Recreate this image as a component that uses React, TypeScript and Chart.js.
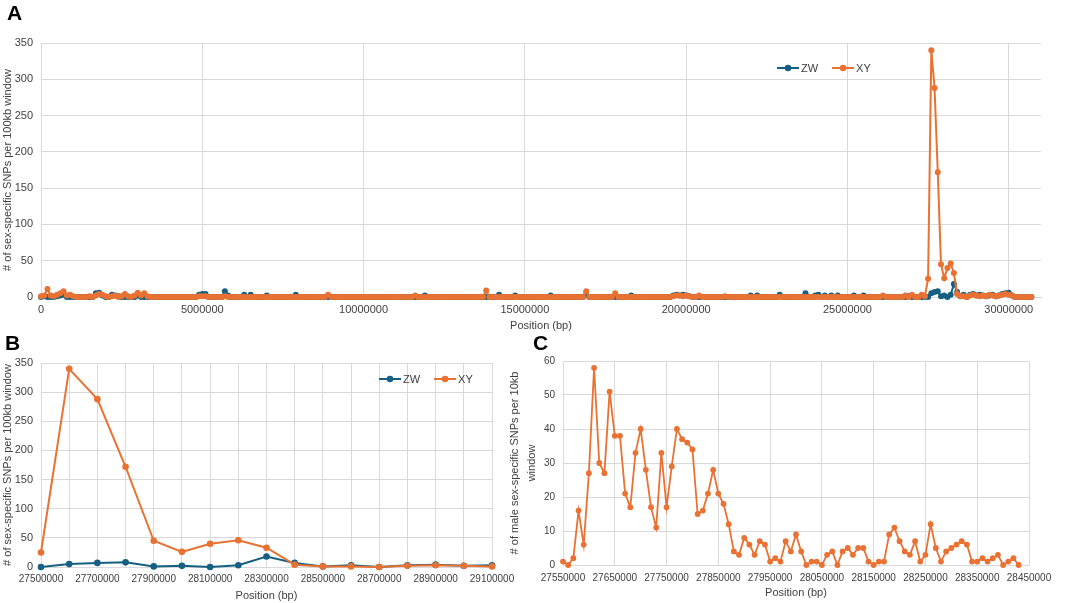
import React, { useEffect, useRef } from 'react';
import { Chart, registerables } from 'chart.js';

Chart.register(...registerables);

const FONT = '"Liberation Sans", Arial, Helvetica, sans-serif';
const BLUE = '#156082';
const ORANGE = '#E97132';
const GRID = '#d9d9d9';
const TEXT = '#404040';

// ---------- Panel A: whole chromosome, 100 kb windows ----------
const A_WINDOW_START = 0;
const A_WINDOW_STEP = 100000;
const A_ZW = [
  0, 1, 0, 0, 0, 1, 2, 3, 0, 0, 0, 0, 0, 0, 0, 0, 0, 5, 6, 2,
  0, 0, 3, 2, 1, 0, 0, 0, 0, 0, 2, 0, 0, 0, 0, 0, 0, 0, 0, 0,
  0, 0, 0, 0, 0, 0, 0, 0, 0, 3, 4, 4, 0, 0, 0, 0, 0, 8, 2, 0,
  0, 0, 0, 3, 0, 3, 0, 0, 0, 0, 2, 0, 0, 0, 0, 0, 0, 0, 0, 3,
  0, 0, 0, 0, 0, 0, 0, 0, 0, 0, 0, 0, 0, 0, 0, 0, 0, 0, 0, 0,
  0, 0, 0, 0, 0, 0, 0, 0, 0, 0, 0, 0, 0, 0, 0, 0, 0, 0, 0, 2,
  0, 0, 0, 0, 0, 0, 0, 0, 0, 0, 0, 0, 0, 0, 0, 0, 0, 0, 0, 0,
  0, 0, 3, 0, 0, 0, 0, 2, 0, 0, 0, 0, 0, 0, 0, 0, 0, 0, 2, 0,
  0, 0, 0, 0, 0, 0, 0, 0, 0, 3, 0, 0, 0, 0, 0, 0, 0, 0, 0, 0,
  0, 0, 0, 2, 0, 0, 0, 0, 0, 0, 0, 0, 0, 0, 0, 0, 2, 3, 2, 3,
  2, 1, 0, 0, 0, 0, 0, 0, 0, 0, 0, 0, 0, 0, 0, 0, 0, 0, 0, 0,
  2, 0, 2, 0, 0, 0, 0, 0, 0, 3, 0, 0, 0, 0, 0, 0, 0, 5, 0, 0,
  2, 3, 0, 2, 0, 2, 0, 2, 0, 0, 0, 0, 2, 0, 0, 2, 0, 0, 0, 0,
  0, 0, 0, 0, 0, 0, 0, 0, 0, 1, 0, 0, 0, 0, 0, 0, 5, 7, 8, 1,
  2, 0, 3, 18, 7, 1, 3, 0, 3, 4, 2, 3, 2, 1, 2, 3, 1, 2, 4, 5,
  6, 2, 0, 0, 0, 0, 0, 0,
];
const A_XY = [
  1, 2, 11, 2, 1, 3, 5, 8, 2, 3, 1, 0, 0, 0, 0, 1, 0, 2, 4, 3,
  1, 0, 1, 2, 0, 1, 4, 1, 0, 2, 6, 2, 5, 1, 0, 0, 0, 0, 0, 0,
  0, 0, 0, 0, 0, 0, 0, 0, 0, 1, 1, 1, 0, 0, 0, 0, 0, 1, 0, 0,
  0, 0, 0, 0, 0, 0, 0, 0, 0, 0, 0, 0, 0, 0, 0, 0, 0, 0, 0, 0,
  0, 0, 0, 0, 0, 0, 0, 0, 0, 3, 0, 0, 0, 0, 0, 0, 0, 0, 0, 0,
  0, 0, 0, 0, 0, 0, 0, 0, 0, 0, 0, 0, 0, 0, 0, 0, 2, 0, 0, 0,
  0, 0, 0, 0, 0, 0, 0, 0, 0, 0, 0, 0, 0, 0, 0, 0, 0, 0, 9, 0,
  0, 0, 0, 0, 0, 0, 0, 0, 0, 0, 0, 0, 0, 0, 0, 0, 0, 0, 0, 0,
  0, 0, 0, 0, 0, 0, 0, 0, 0, 8, 0, 0, 0, 0, 0, 0, 0, 0, 5, 0,
  0, 0, 0, 0, 0, 0, 0, 0, 0, 0, 0, 0, 0, 0, 0, 0, 1, 2, 2, 1,
  2, 1, 0, 0, 2, 0, 0, 0, 0, 0, 0, 0, 1, 0, 0, 0, 0, 0, 0, 0,
  0, 0, 0, 0, 0, 0, 0, 0, 0, 0, 0, 0, 0, 0, 0, 0, 0, 0, 0, 0,
  0, 0, 0, 0, 0, 0, 0, 0, 0, 0, 0, 0, 0, 0, 0, 0, 0, 0, 0, 0,
  0, 2, 0, 0, 0, 0, 0, 0, 2, 0, 3, 0, 0, 3, 1, 25, 340, 288, 172, 45,
  26, 40, 46, 33, 4, 1, 1, 0, 2, 3, 2, 1, 2, 1, 3, 2, 1, 2, 3, 4,
  3, 2, 0, 0, 0, 0, 0, 0,
];
const A_X_TICKS = [0, 5000000, 10000000, 15000000, 20000000, 25000000, 30000000];
const A_X_MAX = 31000000;

// ---------- Panel B: zoom, 100 kb windows ----------
const B_POS = [
  27500000, 27600000, 27700000, 27800000, 27900000, 28000000, 28100000, 28200000, 28300000,
  28400000, 28500000, 28600000, 28700000, 28800000, 28900000, 29000000, 29100000,
];
const B_ZW = [0, 5, 7, 8, 1, 2, 0, 3, 18, 7, 1, 3, 0, 3, 4, 2, 3];
const B_XY = [25, 340, 288, 172, 45, 26, 40, 46, 33, 4, 1, 1, 0, 2, 3, 2, 1];
const B_X_LABELS = [27500000, 27700000, 27900000, 28100000, 28300000, 28500000, 28700000, 28900000, 29100000];

// ---------- Panel C: male-specific SNPs, 10 kb windows ----------
const C_WINDOW_START = 27550000;
const C_WINDOW_STEP = 10000;
const C_XY = [
  1, 0, 2, 16, 6, 27, 58, 30, 27, 51,
  38, 38, 21, 17, 33, 40, 28, 17, 11, 33,
  17, 29, 40, 37, 36, 34, 15, 16, 21, 28,
  21, 18, 12, 4, 3, 8, 6, 3, 7, 6,
  1, 2, 1, 7, 4, 9, 4, 0, 1, 1,
  0, 3, 4, 0, 4, 5, 3, 5, 5, 1,
  0, 1, 1, 9, 11, 7, 4, 3, 7, 1,
  3, 12, 5, 1, 4, 5, 6, 7, 6, 1,
  1, 2, 1, 2, 3, 0, 1, 2, 0,
];

const Y_TITLE_AB = '# of sex-specific SNPs per 100kb window';
const Y_TITLE_C = ['# of male sex-specific SNPs per 10kb', 'window'];
const X_TITLE = 'Position (bp)';

const A_POS = A_XY.map((_, i) => A_WINDOW_START + i * A_WINDOW_STEP);
const C_POS = C_XY.map((_, i) => C_WINDOW_START + i * C_WINDOW_STEP);

function pts(xs: number[], ys: number[]) {
  return ys.map((y, i) => ({ x: xs[i], y }));
}

const legendPlugin = {
  id: 'manualLegend',
  afterDraw(chart: any, _args: any, opts: any) {
    if (!opts || !opts.items) return;
    const ctx = chart.ctx as CanvasRenderingContext2D;
    ctx.save();
    ctx.font = `${opts.size}px ${FONT}`;
    let x = opts.x;
    const y = opts.y;
    for (const it of opts.items) {
      ctx.strokeStyle = it.color;
      ctx.lineWidth = 2;
      ctx.beginPath();
      ctx.moveTo(x, y);
      ctx.lineTo(x + 22, y);
      ctx.stroke();
      ctx.fillStyle = it.color;
      ctx.beginPath();
      ctx.arc(x + 11, y, 3.3, 0, Math.PI * 2);
      ctx.fill();
      ctx.fillStyle = TEXT;
      ctx.textBaseline = 'middle';
      ctx.textAlign = 'left';
      ctx.fillText(it.label, x + 24, y + 0.5);
      x += 24 + ctx.measureText(it.label).width + 14;
    }
    ctx.restore();
  },
};

function lineDs(label: string, data: any[], color: string, r: number, w: number, order: number) {
  return {
    label,
    data,
    borderColor: color,
    backgroundColor: color,
    pointBackgroundColor: color,
    pointBorderColor: color,
    pointBorderWidth: 0,
    pointRadius: r,
    borderWidth: w,
    tension: 0,
    clip: false as any,
    order,
  };
}

function fitX(h: number) {
  return (s: any) => {
    s.height = h;
    s.paddingLeft = 0;
    s.paddingRight = 0;
  };
}

function fitY(w: number) {
  return (s: any) => {
    s.width = w;
    s.paddingTop = 0;
    s.paddingBottom = 0;
  };
}

function configA(): any {
  return {
    type: 'line',
    data: {
      datasets: [
        lineDs('ZW', pts(A_POS, A_ZW), BLUE, 3, 2, 1),
        lineDs('XY', pts(A_POS, A_XY), ORANGE, 3, 2, 0),
      ],
    },
    options: {
      responsive: false,
      animation: false,
      layout: { padding: { left: 0, top: 43, right: 24, bottom: 0 } },
      plugins: {
        legend: { display: false },
        tooltip: { enabled: false },
        manualLegend: {
          x: 777,
          y: 68,
          size: 11,
          items: [
            { label: 'ZW', color: BLUE },
            { label: 'XY', color: ORANGE },
          ],
        },
      },
      scales: {
        x: {
          type: 'linear',
          min: A_X_TICKS[0],
          max: A_X_MAX,
          afterBuildTicks: (s: any) => {
            s.ticks = A_X_TICKS.map((v) => ({ value: v }));
          },
          afterFit: fitX(38),
          grid: { color: GRID, drawTicks: false },
          border: { color: GRID },
          ticks: {
            padding: 6,
            maxRotation: 0,
            autoSkip: false,
            color: TEXT,
            font: { family: FONT, size: 11 },
            callback: (v: any) => String(v),
          },
          title: {
            display: true,
            text: X_TITLE,
            color: TEXT,
            font: { family: FONT, size: 11 },
            padding: { top: 0, bottom: 2 },
          },
        },
        y: {
          min: 0,
          max: 350,
          afterFit: fitY(41),
          grid: { color: GRID, drawTicks: false },
          border: { color: GRID },
          ticks: {
            stepSize: 50,
            padding: 8,
            color: TEXT,
            font: { family: FONT, size: 11 },
            callback: (v: any) => String(v),
          },
          title: {
            display: true,
            text: Y_TITLE_AB,
            color: TEXT,
            font: { family: FONT, size: 11 },
            padding: { top: 1, bottom: 0 },
          },
        },
      },
    },
    plugins: [legendPlugin],
  };
}

function configB(): any {
  return {
    type: 'line',
    data: {
      datasets: [
        lineDs('ZW', pts(B_POS, B_ZW), BLUE, 3.3, 2, 1),
        lineDs('XY', pts(B_POS, B_XY), ORANGE, 3.3, 2, 0),
      ],
    },
    options: {
      responsive: false,
      animation: false,
      layout: { padding: { left: 0, top: 28, right: 38, bottom: 0 } },
      plugins: {
        legend: { display: false },
        tooltip: { enabled: false },
        manualLegend: {
          x: 379,
          y: 44,
          size: 11,
          items: [
            { label: 'ZW', color: BLUE },
            { label: 'XY', color: ORANGE },
          ],
        },
      },
      scales: {
        x: {
          type: 'linear',
          min: B_POS[0],
          max: B_POS[B_POS.length - 1],
          afterFit: fitX(36),
          grid: { color: GRID, drawTicks: false },
          border: { color: GRID },
          ticks: {
            stepSize: 100000,
            padding: 6,
            maxRotation: 0,
            minRotation: 0,
            autoSkip: false,
            color: TEXT,
            font: { family: FONT, size: 10 },
            callback: (v: any) => (B_X_LABELS.includes(Number(v)) ? String(v) : ''),
          },
          title: {
            display: true,
            text: X_TITLE,
            color: TEXT,
            font: { family: FONT, size: 11 },
            padding: { top: 0, bottom: 0 },
          },
        },
        y: {
          min: 0,
          max: 350,
          afterFit: fitY(41),
          grid: { color: GRID, drawTicks: false },
          border: { color: GRID },
          ticks: {
            stepSize: 50,
            padding: 8,
            color: TEXT,
            font: { family: FONT, size: 11 },
            callback: (v: any) => String(v),
          },
          title: {
            display: true,
            text: Y_TITLE_AB,
            color: TEXT,
            font: { family: FONT, size: 11 },
            padding: { top: 1, bottom: 0 },
          },
        },
      },
    },
    plugins: [legendPlugin],
  };
}

function configC(): any {
  return {
    type: 'line',
    data: {
      datasets: [lineDs('XY', pts(C_POS, C_XY), ORANGE, 2.9, 1.8, 0)],
    },
    options: {
      responsive: false,
      animation: false,
      layout: { padding: { left: 0, top: 26, right: 36, bottom: 0 } },
      plugins: {
        legend: { display: false },
        tooltip: { enabled: false },
      },
      scales: {
        x: {
          type: 'linear',
          min: 27550000,
          max: 28450000,
          afterFit: fitX(38),
          grid: { color: GRID, drawTicks: false },
          border: { color: GRID },
          ticks: {
            stepSize: 100000,
            padding: 7,
            maxRotation: 0,
            minRotation: 0,
            autoSkip: false,
            color: TEXT,
            font: { family: FONT, size: 10 },
            callback: (v: any) => String(v),
          },
          title: {
            display: true,
            text: X_TITLE,
            color: TEXT,
            font: { family: FONT, size: 11 },
            padding: { top: 0, bottom: 3 },
          },
        },
        y: {
          min: 0,
          max: 60,
          afterFit: fitY(58),
          grid: { color: GRID, drawTicks: false },
          border: { color: GRID },
          ticks: {
            stepSize: 10,
            padding: 8,
            color: TEXT,
            font: { family: FONT, size: 10 },
            callback: (v: any) => String(v),
          },
          title: {
            display: true,
            text: Y_TITLE_C,
            color: TEXT,
            font: { family: FONT, size: 11, lineHeight: 1.6 },
            padding: { top: 1, bottom: 0 },
          },
        },
      },
    },
  };
}

function ChartBox(props: { left: number; top: number; width: number; height: number; make: () => any }) {
  const ref = useRef<HTMLCanvasElement>(null);
  useEffect(() => {
    const chart = new Chart(ref.current as HTMLCanvasElement, props.make());
    return () => chart.destroy();
  }, []);
  return (
    <canvas
      ref={ref}
      width={props.width}
      height={props.height}
      style={{ position: 'absolute', left: props.left, top: props.top, width: props.width, height: props.height }}
    />
  );
}

const labelStyle: React.CSSProperties = {
  position: 'absolute',
  fontFamily: FONT,
  fontWeight: 'bold',
  fontSize: 21,
  lineHeight: 1,
  color: '#000',
};

export default function App() {
  return (
    <div style={{ position: 'fixed', left: 0, top: 0, width: 1065, height: 603, background: '#fff', overflow: 'hidden' }}>
      <ChartBox left={0} top={0} width={1065} height={335} make={configA} />
      <ChartBox left={0} top={335} width={530} height={268} make={configB} />
      <ChartBox left={505} top={335} width={560} height={268} make={configC} />
      <div style={{ ...labelStyle, left: 7, top: 2 }}>A</div>
      <div style={{ ...labelStyle, left: 5, top: 332 }}>B</div>
      <div style={{ ...labelStyle, left: 533, top: 332 }}>C</div>
    </div>
  );
}
